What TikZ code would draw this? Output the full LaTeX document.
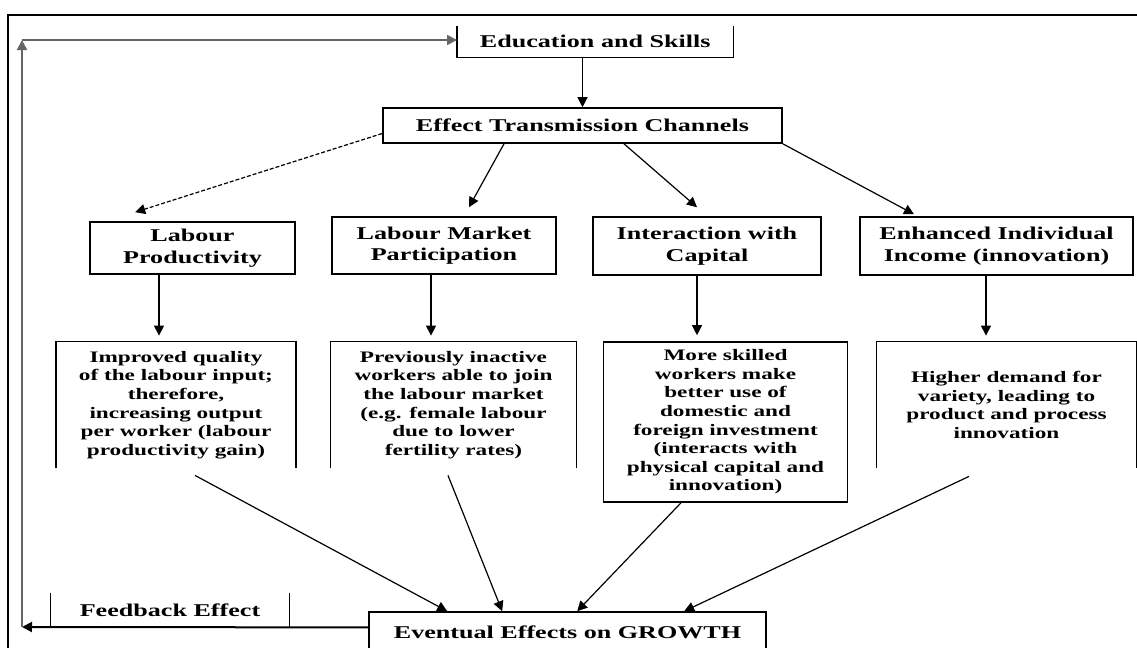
\documentclass[tikz,border=0pt]{standalone}
\usepackage{fontspec}
\setmainfont{Liberation Serif}[FakeStretch=1.45]
\usetikzlibrary{arrows.meta}
\begin{document}
\begin{tikzpicture}[x=0.5pt,y=-0.5pt,
		head/.style={align=center,inner sep=0pt,font=\bfseries\fontsize{9}{10.8}\selectfont},
		body/.style={align=center,inner sep=0pt,font=\bfseries\fontsize{8}{9.3}\selectfont},
		frame/.style={line width=0.8pt},
		arr/.style={line width=0.6pt,-{Triangle[length=5pt,width=5pt]}}]
	\useasboundingbox (0,0) rectangle (1137,648);
	% Rahmen
	\draw[frame] (8,648) |- (1137,15);
	% obere Kaesten
	\node[head,minimum width=137.75pt,minimum height=15.5pt] (edu) at (595.25,41.5) {Education and Skills};
	\draw[frame] (edu.north west) |- (edu.south east) -- (edu.north east);
	\node[head,draw,frame,minimum width=199.5pt,minimum height=17.5pt] (etc) at (582.5,125.5) {Effect Transmission Channels};
	% Kanaele
	\node[head,draw,frame,minimum width=102.5pt,minimum height=26pt] (lp) at (192.5,248) {Labour\\Productivity};
	\node[head,draw,frame,minimum width=112pt,minimum height=28.5pt] (lmp) at (444,245.5) {Labour Market\\Participation};
	\node[head,draw,frame,minimum width=114pt,minimum height=29pt] (iwc) at (707,246) {Interaction with\\Capital};
	\node[head,draw,frame,minimum width=136.5pt,minimum height=29pt] (eii) at (996.5,246) {Enhanced Individual\\Income (innovation)};
	% Wirkungen
	\node[body,minimum width=119.5pt,minimum height=63pt] (a) at (176,405) {Improved quality\\of the labour input;\\therefore,\\increasing output\\per worker (labour\\productivity gain)};
	\draw[frame] (a.south west) |- (a.north east) -- (a.south east);
	\node[body,minimum width=122.5pt,minimum height=63pt] (b) at (453.5,405) {Previously inactive\\workers able to join\\the labour market\\(e.g. female labour\\due to lower\\fertility rates)};
	\draw[frame] (b.south west) |- (b.north east) -- (b.south east);
	\node[body,draw,frame,minimum width=122pt,minimum height=80pt] (c) at (725.5,422) {More skilled\\workers make\\better use of\\domestic and\\foreign investment\\(interacts with\\physical capital and\\innovation)};
	\node[body,minimum width=129.5pt,minimum height=63pt] (d) at (1006.5,405) {Higher demand for\\variety, leading to\\product and process\\innovation};
	\draw[frame] (d.south west) |- (d.north east) -- (d.south east);
	% unten
	\node[head,minimum width=119pt,minimum height=17pt] (fb) at (170,610) {Feedback Effect};
	\draw[frame] (fb.north west) -- (fb.south west) (fb.north east) -- (fb.south east);
	\node[head,draw,frame,minimum width=198.5pt,minimum height=20pt] (ev) at (567.5,632) {Eventual Effects on GROWTH};
	% Pfeile
	\draw[arr] (edu.south -| etc.north) -- (etc.north);
	\draw[arr,dash pattern=on 2pt off 1pt] ([yshift=-4pt]etc.west) -- ([xshift=23pt,yshift=4.5pt]lp.north west);
	\draw[arr] ([xshift=-39.25pt]etc.south) -- ([xshift=12.5pt,yshift=4.5pt]lmp.north);
	\draw[arr] ([xshift=20.75pt]etc.south) -- ([xshift=-5pt,yshift=4.5pt]iwc.north);
	\draw[arr] (etc.south east) -- ([xshift=-41.25pt,yshift=1pt]eii.north);
	\draw[arr] ([xshift=-16.75pt]lp.south) -- ([xshift=-16.75pt,yshift=3pt]lp.south |- a.north);
	\draw[arr] ([xshift=-6.5pt]lmp.south) -- ([xshift=-6.5pt,yshift=3pt]lmp.south |- b.north);
	\draw[arr] ([xshift=-5pt]iwc.south) -- ([xshift=-5pt,yshift=3pt]iwc.south |- c.north);
	\draw[arr] ([xshift=-5.25pt]eii.south) -- ([xshift=-5.25pt,yshift=3pt]eii.south |- d.north);
	\draw[arr] ([xshift=9.5pt,yshift=-3.5pt]a.south) -- ([xshift=39.5pt]ev.north west);
	\draw[arr] ([xshift=-2.75pt,yshift=-3.5pt]b.south) -- ([xshift=67pt]ev.north west);
	\draw[arr] ([xshift=-22.25pt]c.south) -- ([xshift=104.5pt]ev.north west);
	\draw[arr] ([xshift=-18.75pt,yshift=-4pt]d.south) -- ([xshift=158pt]ev.north west);
	% Rueckkopplung
	\coordinate (fbl) at (22,627);
	\coordinate (fbt) at (22,40);
	\draw[arr,line width=1pt] (ev.west |- fb.south) -- (fbl);
	\draw[arr,black!60,line width=1pt] (fbl) -- (fbt);
	\draw[arr,black!60] (fbt) -- (edu.west |- fbt);
\end{tikzpicture}
\end{document}
